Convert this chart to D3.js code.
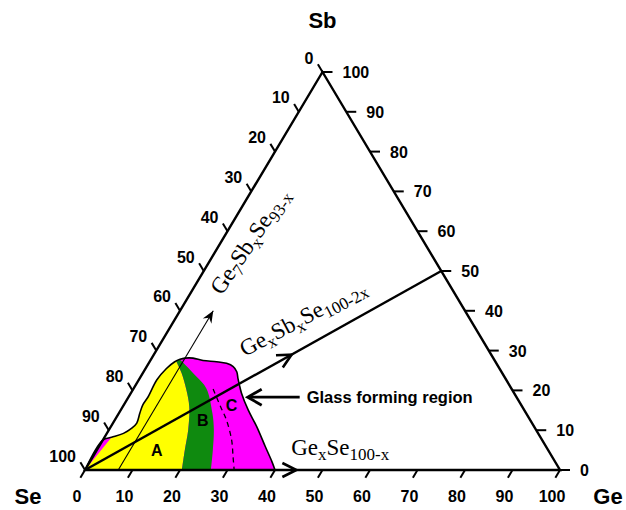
<!DOCTYPE html>
<html><head><meta charset="utf-8">
<script src="https://cdn.jsdelivr.net/npm/d3@7"></script>
<style>body{margin:0;background:#fff}svg{display:block}</style>
</head><body><svg id="c" width="626" height="510"></svg>
<script>
// ---- data: compositions given as [Ge, Sb] in at.% (Se = 100 - Ge - Sb) ----
const vertexNames = ["Se", "Ge", "Sb"];
const tickValues = [0, 10, 20, 30, 40, 50, 60, 70, 80, 90, 100];
const regionOutline = [[0,0],[0,7.5],[1.5,8.2],[3.5,9.2],[4.6,10.5],[5.0,11.8],[4.4,14.3],[4.0,16.3],[4.1,18.4],[3.8,22.6],[4.4,25.5],[5.3,27.2],[6.1,27.8],[7.0,28.1],[8.7,28.1],[11.1,27.5],[14.1,27.2],[16.4,26.8],[18.2,26.0],[19.6,24.7],[20.7,23.0],[21.8,21.4],[23.3,19.3],[26.8,15.1],[30.7,10.9],[35.0,5.9],[38.3,2.1],[40,0]];
const yellowGreenBoundary = [[3.9,29.2],[5.66,27.2],[8.2,24.3],[11.3,20.1],[14.0,15.9],[16.7,10.05],[18.5,5.03],[20.4,0]];
const greenMagentaBoundary = [[4.3,29.2],[6.07,27.8],[11.8,23.4],[15.3,20.5],[19.7,14.25],[22.1,10.05],[24.4,5.03],[26.5,0]];
const magentaCornerEdge = [[0,0],[1.5,8.2],[0,12],[0,35]];
const dashedBoundary = [[16.8,20.35],[20.6,15.9],[23.5,12.56],[27.1,7.54],[29.5,3.34],[31.4,0]];
const zoneNames = ["A", "B", "C"];
const zonePositions = [[12.6,5.0],[18.5,12.6],[22.7,16.3]];
const ge7Line = [[7,0],[7,40]];          // Ge7SbxSe93-x
const gesbLine = [[0,0],[50,50]];        // GexSbxSe100-2x
const gesbArrowTip = [29,29];
const geseArrowTip = [44.5,0];           // GexSe100-x
const glassArrowTip = [25.1,18.3];

const svg = d3.select("#c");
const xS = d3.scaleLinear().domain([0,100]).range([85,560]);
const yS = d3.scaleLinear().domain([0,100]).range([470,72]);
const P = ([ge,sb]) => [xS(ge + sb/2), yS(sb)];
const SE = P([0,0]), GE = P([100,0]), SB = P([0,100]);

const lin = d3.line().curve(d3.curveLinear);
const smooth = d3.line().curve(d3.curveCatmullRom.alpha(0.5));

// clip to outline
const outlinePath = smooth(regionOutline.map(P)) + "Z";
svg.append("defs").append("clipPath").attr("id","reg").append("path").attr("d", outlinePath);
const g = svg.append("g").attr("clip-path","url(#reg)");
g.append("path").attr("d", outlinePath).attr("fill","#ff00ff");
// yellow zone
g.append("path").attr("d", lin(magentaCornerEdge.map(P)) + smooth(yellowGreenBoundary.map(P)).replace(/^M/,"L") + "Z").attr("fill","#ffff00");
// green zone
const gPath = smooth(yellowGreenBoundary.map(P)) + smooth(greenMagentaBoundary.slice().reverse().map(P)).replace(/^M/,"L") + "Z";
g.append("path").attr("d", gPath).attr("fill","#0f8a0f");

// dashed line
svg.append("path").attr("d", smooth(dashedBoundary.map(P))).attr("fill","none")
  .attr("stroke","#000").attr("stroke-width",1.3).attr("stroke-dasharray","5,4");
// outline
svg.append("path").attr("d", smooth(regionOutline.map(P))).attr("fill","none")
  .attr("stroke","#000").attr("stroke-width",1.6);

function chevron(tip, from, len, hw) {
  const dx = tip[0]-from[0], dy = tip[1]-from[1], L = Math.hypot(dx,dy);
  const ux = dx/L, uy = dy/L, nx = -uy, ny = ux;
  const bx = tip[0]-ux*len, by = tip[1]-uy*len;
  return `M${bx+nx*hw},${by+ny*hw}L${tip[0]},${tip[1]}L${bx-nx*hw},${by-ny*hw}`;
}

// Ge7 line (thin)
svg.append("path").attr("d", lin(ge7Line.map(P))).attr("stroke","#000").attr("stroke-width",1.1).attr("fill","none");
{
  const tip = P(ge7Line[1]), from = P(ge7Line[0]);
  const dx=tip[0]-from[0], dy=tip[1]-from[1], L=Math.hypot(dx,dy), ux=dx/L, uy=dy/L;
  const bx=tip[0]-ux*12, by=tip[1]-uy*12, mx=tip[0]-ux*8, my=tip[1]-uy*8;
  svg.append("path").attr("d",`M${tip[0]},${tip[1]}L${bx-uy*5},${by+ux*5}L${mx},${my}L${bx+uy*5},${by-ux*5}Z`).attr("fill","#000");
}

// triangle
svg.append("path").attr("d", lin([SE,GE,SB]) + "Z").attr("fill","none").attr("stroke","#000")
  .attr("stroke-width",2.4).attr("stroke-linejoin","miter");

// GexSbxSe line
svg.append("path").attr("d", lin(gesbLine.map(P))).attr("stroke","#000").attr("stroke-width",2.4).attr("fill","none");
svg.append("path").attr("d", chevron(P(gesbArrowTip), SE, 14, 7)).attr("stroke","#000").attr("stroke-width",2.6).attr("fill","none");
svg.append("path").attr("d", chevron(P(geseArrowTip), SE, 14, 7)).attr("stroke","#000").attr("stroke-width",2.6).attr("fill","none");

// ticks
const unit = (a,b) => { const dx=b[0]-a[0], dy=b[1]-a[1], L=Math.hypot(dx,dy); return [dx/L, dy/L]; };
const dBottom = unit(SB, SE), dLeft = unit(GE, SB), dRight = [1,0];
const axes = [
  {pt: v => P([v,0]), dir: dBottom, len: 9, lx: -8, ly: 32, anchor: "middle"},
  {pt: v => P([100-v, v]), dir: dRight, len: 10, lx: 20, ly: 6, anchor: "start"},
  {pt: v => P([0, 100-v]), dir: dLeft, len: 9, lx: -9, ly: -8.5, anchor: "end"}
];
axes.forEach(a => {
  tickValues.forEach(v => {
    const p = a.pt(v);
    svg.append("line").attr("x1",p[0]).attr("y1",p[1]).attr("x2",p[0]+a.dir[0]*a.len).attr("y2",p[1]+a.dir[1]*a.len)
      .attr("stroke","#000").attr("stroke-width",2);
    svg.append("text").attr("x",p[0]+a.lx).attr("y",p[1]+a.ly).attr("text-anchor",a.anchor)
      .attr("font-family","Liberation Sans, Arial, sans-serif").attr("font-weight","bold").attr("font-size",16)
      .text(v);
  });
});

// vertex labels
const vfont = "Liberation Sans, Arial, sans-serif";
[[SE,-57,34],[GE,48,34],[SB,0,-44]].forEach((d,i) => {
  svg.append("text").attr("x", d[0][0]+d[1]).attr("y", d[0][1]+d[2]).attr("text-anchor","middle")
    .attr("font-family",vfont).attr("font-weight","bold").attr("font-size",22).text(vertexNames[i]);
});

// zone labels
zoneNames.forEach((n,i) => {
  const p = P(zonePositions[i]);
  svg.append("text").attr("x",p[0]).attr("y",p[1]+6).attr("text-anchor","middle")
    .attr("font-family",vfont).attr("font-weight","bold").attr("font-size",16).text(n);
});

// formula labels
function formula(pos, angle, parts) {
  const p = P(pos);
  const t = svg.append("text").attr("transform",`translate(${p[0]},${p[1]}) rotate(${angle})`)
    .attr("font-family","Liberation Serif, Times New Roman, serif").attr("fill","#000");
  let sub = false;
  parts.forEach(([s, isSub]) => {
    const ts = t.append("tspan").text(s).attr("font-size", isSub ? 17 : 23);
    if (isSub && !sub) ts.attr("dy", 5);
    if (!isSub && sub) ts.attr("dy", -5);
    sub = isSub;
  });
}
formula([41.5,3.8], 0, [["Ge",0],["x",1],["Se",0],["100-x",1]]);
formula([19.45,28.4], -28, [["Ge",0],["x",1],["Sb",0],["x",1],["Se",0],["100-2x",1]]);
formula([6.95,43.7], -56, [["Ge",0],["7",1],["Sb",0],["x",1],["Se",0],["93-x",1]]);

// glass forming annotation
{
  const tip = P(glassArrowTip);
  const tail = [tip[0]+52, tip[1]];
  svg.append("line").attr("x1",tip[0]+2).attr("y1",tip[1]).attr("x2",tail[0]).attr("y2",tail[1]).attr("stroke","#000").attr("stroke-width",2.6);
  svg.append("path").attr("d", chevron(tip, tail, 14, 8)).attr("stroke","#000").attr("stroke-width",2.8).attr("fill","none");
  svg.append("text").attr("x",tail[0]+7).attr("y",tip[1]+6).attr("font-family",vfont).attr("font-weight","bold")
    .attr("font-size",16.5).text("Glass forming region");
}
</script></body></html>
